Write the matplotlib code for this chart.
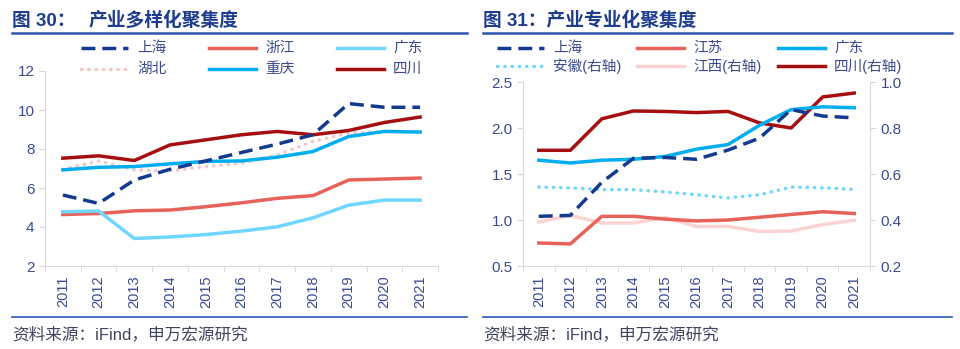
import matplotlib
matplotlib.use('Agg')
import matplotlib.pyplot as plt
from matplotlib.lines import Line2D
import numpy as np

plt.rcParams['font.family'] = ['Liberation Sans', 'Noto Sans CJK SC', 'DejaVu Sans']

years = ['2011', '2012', '2013', '2014', '2015', '2016', '2017', '2018', '2019', '2020', '2021']

# 图30 产业多样化聚集度
sh_div = [5.64, 5.21, 6.41, 6.96, 7.39, 7.82, 8.25, 8.73, 10.33, 10.14, 10.14]
zj_div = [4.64, 4.69, 4.83, 4.87, 5.04, 5.24, 5.47, 5.61, 6.41, 6.46, 6.51]
gd_div = [4.78, 4.82, 3.41, 3.49, 3.61, 3.79, 4.01, 4.47, 5.12, 5.38, 5.38]
hb_div = [6.96, 7.39, 6.93, 6.88, 7.10, 7.27, 7.70, 8.39, 8.82, 8.90, 8.90]
cq_div = [6.93, 7.06, 7.10, 7.24, 7.36, 7.39, 7.58, 7.87, 8.64, 8.90, 8.87]
sc_div = [7.53, 7.65, 7.41, 8.21, 8.47, 8.73, 8.90, 8.73, 8.95, 9.36, 9.64]

# 图31 产业专业化聚集度
sh_spe = [1.04, 1.05, 1.41, 1.67, 1.68, 1.66, 1.76, 1.89, 2.20, 2.13, 2.11]
js_spe = [0.75, 0.74, 1.04, 1.04, 1.01, 0.99, 1.00, 1.03, 1.06, 1.09, 1.07]
gd_spe = [1.65, 1.62, 1.65, 1.66, 1.69, 1.77, 1.82, 2.03, 2.20, 2.23, 2.22]
ah_spe = [0.543, 0.540, 0.532, 0.532, 0.522, 0.510, 0.496, 0.510, 0.543, 0.540, 0.533]  # 右轴
jx_spe = [0.391, 0.420, 0.387, 0.387, 0.410, 0.372, 0.372, 0.350, 0.352, 0.380, 0.399]  # 右轴
sc_spe = [0.703, 0.703, 0.840, 0.874, 0.872, 0.867, 0.872, 0.822, 0.800, 0.935, 0.952]  # 右轴

navy = '#143A8E'
salmon = '#E8625C'
lightcyan = '#6FD6FF'
pink = '#F6C6C6'
blue = '#00AEEF'
darkred = '#A50F0F'
lightpink = '#FBD3D3'
tickc = '#3A4A8C'
spinec = '#D9D9D9'
W, H = 960, 349
DASH = (0, (4, 2))
DOT = (0, (0.1, 2))

fig = plt.figure(figsize=(9.6, 3.49), dpi=100)
x = np.arange(len(years))


def fx(px):
    return px / W


def fy(py):
    return 1 - py / H


def style_axis(ax):
    for s in ['top', 'right']:
        ax.spines[s].set_visible(False)
    for s in ['left', 'bottom']:
        ax.spines[s].set_color(spinec)
    ax.set_xlim(-0.5, 10.5)
    ax.set_xticks(x)
    ax.set_xticklabels(years, rotation=90)
    ax.set_xticks(np.arange(-0.5, 11, 1), minor=True)
    ax.tick_params(axis='x', which='major', length=0, labelsize=10.5, labelcolor=tickc, pad=7)
    ax.tick_params(axis='x', which='minor', length=4, color=spinec)
    ax.tick_params(axis='y', length=4, color=spinec, labelsize=11, labelcolor=tickc)


def legend_entry(x0, y0, text, **kw):
    fig.add_artist(Line2D([fx(x0), fx(x0 + 47)], [fy(y0), fy(y0)], lw=2.5, **kw))
    fig.text(fx(x0 + 56), fy(y0), text, fontsize=10.5, color=tickc, va='center')


# ---- 左图
ax1 = fig.add_axes([fx(45), fy(266), fx(393), (266 - 71) / H])
style_axis(ax1)
ax1.plot(x, hb_div, color=pink, lw=2.5, ls=DOT, dash_capstyle='round')
ax1.plot(x, zj_div, color=salmon, lw=2.5)
ax1.plot(x, gd_div, color=lightcyan, lw=2.5)
ax1.plot(x, cq_div, color=blue, lw=2.5)
ax1.plot(x, sc_div, color=darkred, lw=2.5)
ax1.plot(x, sh_div, color=navy, lw=2.5, ls=DASH)
ax1.set_ylim(2, 12)
ax1.set_yticks([2, 4, 6, 8, 10, 12])

legend_entry(81, 48, '上海', color=navy, ls=DASH)
legend_entry(209, 48, '浙江', color=salmon)
legend_entry(337, 48, '广东', color=lightcyan)
legend_entry(81, 69, '湖北', color=pink, ls=DOT, dash_capstyle='round')
legend_entry(209, 69, '重庆', color=blue)
legend_entry(337, 69, '四川', color=darkred)

# ---- 右图
ax2 = fig.add_axes([fx(523), fy(266), fx(347), (266 - 82) / H])
style_axis(ax2)
ax3 = ax2.twinx()
ax3.spines['right'].set_visible(True)
ax3.spines['right'].set_color(spinec)
for s in ['top', 'left', 'bottom']:
    ax3.spines[s].set_visible(False)
ax3.tick_params(axis='y', length=4, color=spinec, labelsize=11, labelcolor=tickc)

ax3.plot(x, ah_spe, color=lightcyan, lw=2.5, ls=DOT, dash_capstyle='round')
ax3.plot(x, jx_spe, color=lightpink, lw=2.5)
ax3.plot(x, sc_spe, color=darkred, lw=2.5)
ax2.plot(x, js_spe, color=salmon, lw=2.5)
ax2.plot(x, gd_spe, color=blue, lw=2.5)
ax2.plot(x, sh_spe, color=navy, lw=2.5, ls=DASH)
ax2.set_ylim(0.5, 2.5)
ax2.set_yticks([0.5, 1.0, 1.5, 2.0, 2.5])
ax2.set_yticklabels(['0.5', '1.0', '1.5', '2.0', '2.5'])
ax3.set_ylim(0.2, 1.0)
ax3.set_yticks([0.2, 0.4, 0.6, 0.8, 1.0])
ax3.set_yticklabels(['0.2', '0.4', '0.6', '0.8', '1.0'])
ax2.set_zorder(ax3.get_zorder() + 1)
ax2.patch.set_visible(False)

legend_entry(497, 48, '上海', color=navy, ls=DASH)
legend_entry(637, 48, '江苏', color=salmon)
legend_entry(778, 48, '广东', color=blue)
legend_entry(497, 66, '安徽(右轴)', color=lightcyan, ls=DOT, dash_capstyle='round')
legend_entry(637, 66, '江西(右轴)', color=lightpink)
legend_entry(778, 66, '四川(右轴)', color=darkred)

# ---- 标题、分隔线、来源
titlec = '#1F3D8F'
linec = '#2E55B0'
fig.text(fx(12), fy(21), '图 30：', fontsize=13.5, fontweight='bold', color=titlec, va='center')
fig.text(fx(89), fy(21), '产业多样化聚集度', fontsize=13.5, fontweight='bold', color=titlec, va='center')
fig.text(fx(483), fy(21), '图 31：产业专业化聚集度', fontsize=13.5, fontweight='bold', color=titlec, va='center')
for x0, x1 in [(12, 467), (483, 952)]:
    fig.add_artist(Line2D([fx(x0), fx(x1)], [fy(33), fy(33)], color=linec, lw=1.8))
    fig.add_artist(Line2D([fx(x0), fx(x1)], [fy(317), fy(317)], color=linec, lw=1.2))
fig.text(fx(12), fy(334), '资料来源：iFind，申万宏源研究', fontsize=12, color='#3F4560', va='center')
fig.text(fx(483), fy(334), '资料来源：iFind，申万宏源研究', fontsize=12, color='#3F4560', va='center')

fig.savefig('out.png', dpi=100)
